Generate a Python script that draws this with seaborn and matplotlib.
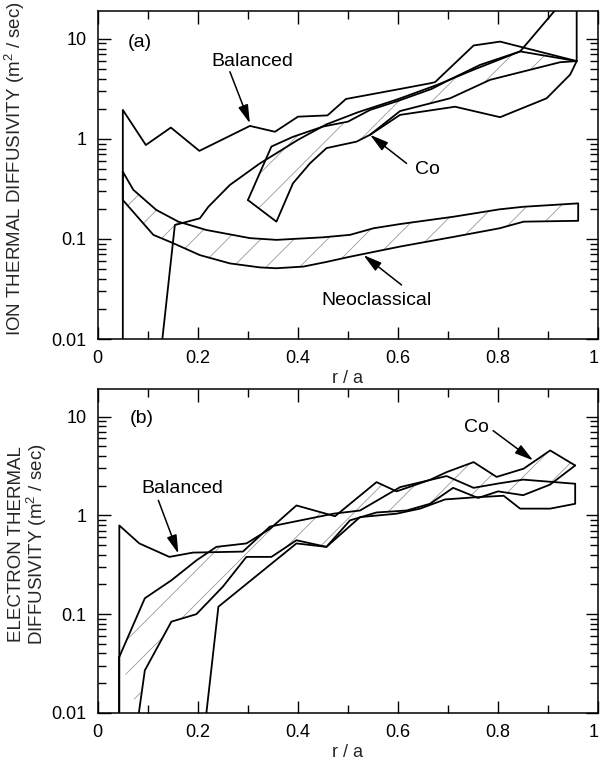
import numpy as np
import matplotlib
matplotlib.use("Agg")
import matplotlib.pyplot as plt
import seaborn as sns
from matplotlib.ticker import LogLocator, FixedLocator, FixedFormatter, NullFormatter

# ---------------- data: panel (a) ion thermal diffusivity ----------------
r_ion_bal_up = [0.05, 0.05, 0.096, 0.146, 0.203, 0.304, 0.354, 0.40, 0.459, 0.496,
                0.604, 0.664, 0.674, 0.751, 0.804, 0.957, 0.957]
chi_ion_bal_up = [0.01, 1.95, 0.87, 1.30, 0.76, 1.35, 1.18, 1.67, 1.72, 2.51,
                  3.16, 3.6, 3.7, 8.6, 9.4, 6.0, 30.0]
r_ion_bal_lo = [0.129, 0.154, 0.204, 0.221, 0.264, 0.324, 0.357, 0.40, 0.457, 0.52,
                0.60, 0.68, 0.75, 0.844, 0.92]
chi_ion_bal_lo = [0.01, 0.138, 0.161, 0.21, 0.347, 0.57, 0.72, 0.98, 1.4, 1.85,
                  2.5, 3.5, 4.9, 7.5, 21.0]

r_ion_co_up = [0.30, 0.347, 0.39, 0.45, 0.50, 0.544, 0.60, 0.667, 0.707, 0.764, 0.844, 0.957]
chi_ion_co_up = [0.245, 0.84, 1.05, 1.33, 1.49, 1.95, 2.4, 3.16, 4.0, 5.5, 7.5, 6.0]
r_ion_co_lo = [0.30, 0.357, 0.39, 0.424, 0.457, 0.517, 0.544, 0.604, 0.714, 0.804,
               0.897, 0.944, 0.957]
chi_ion_co_lo = [0.245, 0.149, 0.36, 0.57, 0.81, 0.94, 1.1, 1.74, 2.1, 1.65,
                 2.55, 4.4, 6.0]
r_ion_co_mid = [0.544, 0.604, 0.704, 0.784, 0.924, 0.957]
chi_ion_co_mid = [1.1, 1.9, 2.55, 3.9, 5.85, 6.0]

r_neo_up = [0.05, 0.071, 0.117, 0.161, 0.217, 0.304, 0.357, 0.451, 0.504, 0.551,
            0.604, 0.711, 0.803, 0.851, 0.96]
chi_neo_up = [0.47, 0.31, 0.195, 0.149, 0.123, 0.102, 0.098, 0.104, 0.110, 0.128,
              0.141, 0.167, 0.198, 0.21, 0.227]
r_neo_lo = [0.05, 0.111, 0.151, 0.204, 0.264, 0.324, 0.357, 0.411, 0.457, 0.504,
            0.604, 0.711, 0.803, 0.851, 0.96]
chi_neo_lo = [0.245, 0.11, 0.0906, 0.069, 0.057, 0.052, 0.051, 0.053, 0.059, 0.0665,
              0.084, 0.105, 0.128, 0.149, 0.152]

# ---------------- data: panel (b) electron thermal diffusivity ----------------
r_el_bal_up = [0.043, 0.043, 0.083, 0.143, 0.19, 0.29, 0.344, 0.471, 0.524, 0.604,
               0.697, 0.751, 0.80, 0.85, 0.954]
chi_el_bal_up = [0.01, 0.79, 0.52, 0.38, 0.42, 0.43, 0.77, 1.04, 1.12, 1.93,
                 2.5, 1.9, 2.1, 2.3, 2.09]
r_el_bal_lo = [0.217, 0.241, 0.397, 0.457, 0.524, 0.597, 0.644, 0.694, 0.751, 0.811,
               0.844, 0.904, 0.954, 0.954]
chi_el_bal_lo = [0.01, 0.119, 0.52, 0.48, 0.96, 1.04, 1.17, 1.45, 1.52, 1.58,
                 1.17, 1.17, 1.31, 2.09]

r_el_co_up = [0.043, 0.094, 0.147, 0.197, 0.237, 0.297, 0.344, 0.397, 0.474, 0.557,
              0.597, 0.664, 0.697, 0.751, 0.797, 0.851, 0.904, 0.954]
chi_el_co_up = [0.037, 0.145, 0.22, 0.35, 0.48, 0.52, 0.73, 1.26, 0.98, 2.17,
                1.75, 2.29, 2.74, 3.46, 2.45, 2.97, 4.54, 3.2]
r_el_co_lo = [0.082, 0.094, 0.147, 0.197, 0.25, 0.297, 0.347, 0.397, 0.457, 0.504,
              0.557, 0.617, 0.664, 0.71, 0.76, 0.80, 0.85, 0.904, 0.954]
chi_el_co_lo = [0.01, 0.027, 0.084, 0.10, 0.19, 0.38, 0.38, 0.56, 0.48, 0.89,
                1.07, 1.12, 1.31, 1.9, 1.5, 1.75, 1.6, 2.05, 3.2]

x_ticks = [0, 0.2, 0.4, 0.6, 0.8, 1.0]
x_tick_labels = ["0", "0.2", "0.4", "0.6", "0.8", "1"]
y_ticks = [0.01, 0.1, 1, 10]
y_tick_labels = ["0.01", "0.1", "1", "10"]

# ---------------- style ----------------
sns.set_theme(style="ticks")
FONT = ["Liberation Sans", "DejaVu Sans"]
plt.rcParams.update({
    "font.family": FONT,
    "mathtext.fontset": "custom",
    "mathtext.rm": "Liberation Sans",
    "mathtext.it": "Liberation Sans",
    "mathtext.default": "regular",
    "hatch.linewidth": 0.6,
    "hatch.color": "#9a9a9a",
    "axes.edgecolor": "black",
    "axes.linewidth": 1.1,
    "text.color": "black",
    "xtick.color": "black",
    "ytick.color": "black",
})

fig = plt.figure(figsize=(6.0, 7.61), dpi=100)
ax_a = fig.add_axes([0.163, 0.5545, 0.834, 0.431])
ax_b = fig.add_axes([0.163, 0.0631, 0.834, 0.4257])

LW = 1.3


def draw_line(ax, xs, ys):
    sns.lineplot(x=xs, y=ys, sort=False, estimator=None, color="black",
                 lw=LW, ax=ax, legend=False)


def hatched(ax, ux, uy, lx, ly):
    px = list(ux) + list(lx)[::-1]
    py = list(uy) + list(ly)[::-1]
    ax.fill(px, py, facecolor="none", edgecolor="#9a9a9a", hatch="/", lw=0)


def style_axes(ax, ylabel, label_x):
    ax.set_yscale("log")
    ax.set_xlim(0, 1.0)
    ax.set_ylim(0.01, 19)
    ax.xaxis.set_major_locator(FixedLocator(x_ticks))
    ax.xaxis.set_major_formatter(FixedFormatter(x_tick_labels))
    ax.xaxis.set_minor_locator(FixedLocator([0.1, 0.3, 0.5, 0.7, 0.9]))
    ax.yaxis.set_major_locator(FixedLocator(y_ticks))
    ax.yaxis.set_major_formatter(FixedFormatter(y_tick_labels))
    ax.yaxis.set_minor_locator(LogLocator(base=10, subs=np.arange(2, 10), numticks=20))
    ax.yaxis.set_minor_formatter(NullFormatter())
    ax.tick_params(which="both", direction="in", top=True, right=True,
                   labelsize=13, pad=8, width=1.0)
    ax.tick_params(which="major", length=9)
    ax.tick_params(which="minor", length=5.5)
    ax.set_xlabel("r / a", fontsize=13, labelpad=2)
    ax.set_ylabel(ylabel, fontsize=13.5, linespacing=1.0)
    ax.yaxis.set_label_coords(label_x, 0.52)
    for s in ax.spines.values():
        s.set_visible(True)
        s.set_color("black")
    fig.canvas.draw()
    last = ax.get_xticklabels()[-1]
    last.set_horizontalalignment("right")


ARROW = dict(arrowstyle="-|>,head_length=0.8,head_width=0.22", color="black",
             lw=1.1, mutation_scale=14, shrinkA=0, shrinkB=0)
TXT = 14

# ---------------- panel (a) ----------------
ax = ax_a
hatched(ax, r_neo_up, chi_neo_up, r_neo_lo, chi_neo_lo)
co_lo_comp_x = r_ion_co_lo[:7] + r_ion_co_mid[1:]
co_lo_comp_y = chi_ion_co_lo[:7] + chi_ion_co_mid[1:]
hatched(ax, r_ion_co_up, chi_ion_co_up, co_lo_comp_x, co_lo_comp_y)

neo_outline_x = r_neo_up + r_neo_lo[::-1] + [r_neo_up[0]]
neo_outline_y = chi_neo_up + chi_neo_lo[::-1] + [chi_neo_up[0]]
draw_line(ax, neo_outline_x, neo_outline_y)
draw_line(ax, r_ion_bal_up, chi_ion_bal_up)
draw_line(ax, r_ion_bal_lo, chi_ion_bal_lo)
draw_line(ax, r_ion_co_up, chi_ion_co_up)
draw_line(ax, r_ion_co_lo, chi_ion_co_lo)
draw_line(ax, r_ion_co_mid, chi_ion_co_mid)

style_axes(ax, "ION THERMAL DIFFUSIVITY (m$^2$ / sec)", -0.142)

ax.text(0.084, 9.3, "(a)", fontsize=TXT, ha="center", va="center")
ax.text(0.308, 6.0, "Balanced", fontsize=TXT, ha="center", va="center")
ax.annotate("", xy=(0.304, 1.43), xytext=(0.264, 4.7), arrowprops=ARROW)
ax.text(0.659, 0.49, "Co", fontsize=TXT, ha="center", va="center")
ax.annotate("", xy=(0.544, 1.1), xytext=(0.617, 0.57), arrowprops=ARROW)
ax.text(0.556, 0.0245, "Neoclassical", fontsize=TXT, ha="center", va="center")
ax.annotate("", xy=(0.531, 0.069), xytext=(0.607, 0.0347), arrowprops=ARROW)

# ---------------- panel (b) ----------------
ax = ax_b
hatched(ax, r_el_co_up, chi_el_co_up, r_el_co_lo, chi_el_co_lo)
draw_line(ax, r_el_co_up, chi_el_co_up)
draw_line(ax, r_el_co_lo, chi_el_co_lo)
draw_line(ax, [r_el_co_up[0], r_el_co_up[0]], [0.01, chi_el_co_up[0]])
draw_line(ax, r_el_bal_up, chi_el_bal_up)
draw_line(ax, r_el_bal_lo, chi_el_bal_lo)

style_axes(ax, "ELECTRON THERMAL\nDIFFUSIVITY (m$^2$ / sec)", -0.097)

ax.text(0.087, 9.5, "(b)", fontsize=TXT, ha="center", va="center")
ax.text(0.168, 1.87, "Balanced", fontsize=TXT, ha="center", va="center")
ax.annotate("", xy=(0.161, 0.41), xytext=(0.121, 1.42), arrowprops=ARROW)
ax.text(0.756, 7.8, "Co", fontsize=TXT, ha="center", va="center")
ax.annotate("", xy=(0.87, 3.6), xytext=(0.79, 7.2), arrowprops=ARROW)

fig.savefig("out.png", dpi=100)
